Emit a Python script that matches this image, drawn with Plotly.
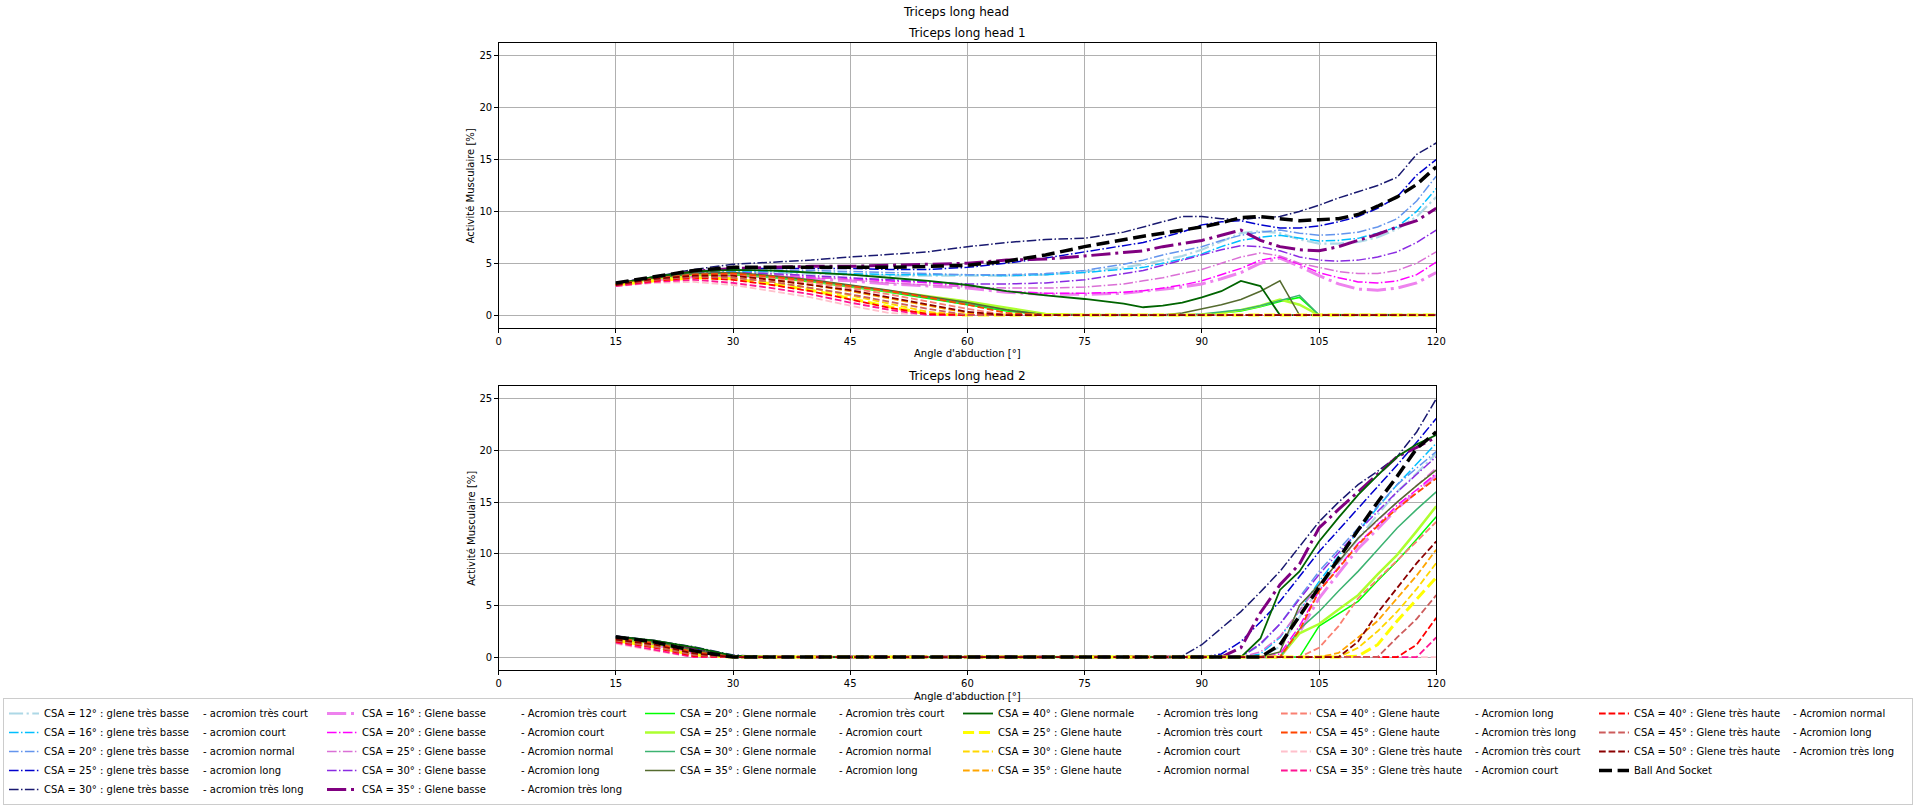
import plotly.graph_objects as go

# ---------------- data ----------------
ANGLES = [15, 20, 25, 30, 35, 40, 45, 50, 55, 60, 65, 70, 75, 80, 82.5, 85, 87.5, 90,
          92.5, 95, 97.5, 100, 102.5, 105, 107.5, 110, 112.5, 115, 117.5, 120]

CURVE_LABELS = [
    "CSA = 12° : glene très basse", "CSA = 16° : glene très basse", "CSA = 20° : glene très basse",
    "CSA = 25° : glene très basse", "CSA = 30° : glene très basse",
    "CSA = 16° : Glene basse", "CSA = 20° : Glene basse", "CSA = 25° : Glene basse",
    "CSA = 30° : Glene basse", "CSA = 35° : Glene basse",
    "CSA = 20° : Glene normale", "CSA = 25° : Glene normale", "CSA = 30° : Glene normale",
    "CSA = 35° : Glene normale", "CSA = 40° : Glene normale",
    "CSA = 25° : Glene haute", "CSA = 30° : Glene haute", "CSA = 35° : Glene haute",
    "CSA = 40° : Glene haute", "CSA = 45° : Glene haute",
    "CSA = 30° : Glene très haute", "CSA = 35° : Glene très haute", "CSA = 40° : Glene très haute",
    "CSA = 45° : Glene très haute", "CSA = 50° : Glene très haute",
    "Ball And Socket",
]
ACROMION_LABELS = [
    "- acromion très court", "- acromion court", "- acromion normal", "- acromion long", "- acromion très long",
    "- Acromion très court", "- Acromion court", "- Acromion normal", "- Acromion long", "- Acromion très long",
    "- Acromion très court", "- Acromion court", "- Acromion normal", "- Acromion long", "- Acromion très long",
    "- Acromion très court", "- Acromion court", "- Acromion normal", "- Acromion long", "- Acromion très long",
    "- Acromion très court", "- Acromion court", "- Acromion normal", "- Acromion long", "- Acromion très long",
    " ",
]

# Triceps long head 1
TOP = [
    [3.0, 3.5, 3.9, 4.1, 4.1, 4.0, 3.9, 3.8, 3.8, 3.8, 3.8, 3.9, 4.2, 4.6, 4.9, 5.3, 5.7, 6.3, 7.1, 7.9, 8.1, 7.9, 7.3, 6.9, 6.9, 7.05, 7.5, 8.3, 9.5, 11.4],
    [3.0, 3.5, 4.0, 4.2, 4.2, 4.1, 4.0, 3.9, 3.9, 3.9, 3.8, 3.9, 4.1, 4.4, 4.6, 5.0, 5.4, 5.9, 6.6, 7.2, 7.5, 7.7, 7.4, 7.15, 7.2, 7.4, 7.9, 8.5, 10.0, 12.2],
    [3.0, 3.6, 4.1, 4.3, 4.3, 4.3, 4.2, 4.1, 4.0, 3.9, 3.9, 4.0, 4.3, 4.9, 5.3, 5.8, 6.2, 6.6, 7.2, 7.7, 8.0, 8.2, 7.9, 7.7, 7.8, 8.0, 8.5, 9.3, 11.0, 13.4],
    [3.0, 3.6, 4.2, 4.5, 4.5, 4.5, 4.5, 4.4, 4.4, 4.6, 5.0, 5.5, 6.1, 6.7, 7.0, 7.5, 8.0, 8.7, 9.0, 9.1, 8.7, 8.4, 8.4, 8.6, 9.0, 9.5, 10.3, 11.4, 13.5, 15.0],
    [3.1, 3.7, 4.4, 4.9, 5.1, 5.3, 5.6, 5.85, 6.1, 6.6, 7.0, 7.3, 7.4, 8.0, 8.5, 9.0, 9.5, 9.5, 9.3, 9.2, 9.4, 9.5, 10.0, 10.6, 11.3, 11.9, 12.5, 13.3, 15.5, 16.6],
    [3.0, 3.4, 3.7, 3.8, 3.7, 3.5, 3.3, 3.0, 2.8, 2.6, 2.2, 2.0, 2.0, 2.1, 2.3, 2.5, 2.7, 3.0, 3.5, 4.1, 5.0, 5.5, 4.7, 3.8, 3.0, 2.5, 2.4, 2.6, 3.1, 4.1],
    [3.0, 3.5, 3.8, 3.9, 3.8, 3.6, 3.5, 3.3, 3.1, 2.8, 2.3, 2.1, 2.1, 2.2, 2.35, 2.6, 2.9, 3.3, 3.9, 4.5, 5.3, 5.6, 4.9, 4.1, 3.6, 3.2, 3.1, 3.3, 3.9, 5.1],
    [3.0, 3.5, 3.9, 4.0, 3.9, 3.7, 3.4, 3.1, 2.9, 2.7, 2.6, 2.6, 2.7, 3.0, 3.3, 3.6, 4.0, 4.4, 5.0, 5.6, 6.0, 5.7, 5.0, 4.6, 4.2, 4.0, 4.0, 4.3, 5.0, 6.1],
    [3.0, 3.5, 4.0, 4.1, 4.0, 3.8, 3.6, 3.4, 3.2, 3.0, 3.0, 3.1, 3.4, 4.0, 4.3, 4.8, 5.3, 5.8, 6.3, 6.7, 6.6, 6.2, 5.6, 5.3, 5.2, 5.3, 5.6, 6.1, 7.0, 8.2],
    [3.0, 3.6, 4.2, 4.5, 4.6, 4.7, 4.7, 4.8, 4.9, 5.0, 5.3, 5.4, 5.7, 6.0, 6.2, 6.6, 6.9, 7.2, 7.7, 8.2, 7.2, 6.6, 6.3, 6.2, 6.6, 7.2, 7.8, 8.5, 9.1, 10.3],
    [3.0, 3.5, 3.9, 3.9, 3.6, 3.2, 2.7, 2.2, 1.6, 1.0, 0.4, 0, 0, 0, 0, 0, 0, 0, 0.2, 0.4, 0.8, 1.3, 1.7, 0, 0, 0, 0, 0, 0, 0],
    [3.0, 3.5, 3.9, 4.0, 3.7, 3.3, 2.8, 2.3, 1.8, 1.3, 0.7, 0.1, 0, 0, 0, 0, 0, 0, 0.2, 0.5, 0.9, 1.5, 1.0, 0, 0, 0, 0, 0, 0, 0],
    [3.0, 3.6, 4.0, 4.0, 3.7, 3.3, 2.8, 2.3, 1.7, 1.1, 0.5, 0, 0, 0, 0, 0, 0, 0.1, 0.3, 0.5, 0.9, 1.4, 1.9, 0, 0, 0, 0, 0, 0, 0],
    [3.0, 3.6, 4.0, 4.1, 3.8, 3.4, 2.9, 2.4, 1.8, 1.2, 0.5, 0, 0, 0, 0, 0, 0.2, 0.6, 1.0, 1.5, 2.3, 3.3, 0, 0, 0, 0, 0, 0, 0, 0],
    [3.0, 3.7, 4.2, 4.35, 4.3, 4.1, 3.9, 3.6, 3.3, 2.9, 2.3, 1.9, 1.55, 1.1, 0.75, 0.9, 1.2, 1.7, 2.3, 3.3, 2.8, 0, 0, 0, 0, 0, 0, 0, 0, 0],
    [2.9, 3.3, 3.6, 3.5, 3.0, 2.4, 1.6, 0.8, 0.1, 0, 0, 0, 0, 0, 0, 0, 0, 0, 0, 0, 0, 0, 0, 0, 0, 0, 0, 0, 0, 0],
    [2.9, 3.4, 3.7, 3.6, 3.2, 2.6, 1.9, 1.1, 0.3, 0, 0, 0, 0, 0, 0, 0, 0, 0, 0, 0, 0, 0, 0, 0, 0, 0, 0, 0, 0, 0],
    [2.9, 3.5, 3.8, 3.8, 3.4, 2.9, 2.3, 1.6, 0.9, 0.2, 0, 0, 0, 0, 0, 0, 0, 0, 0, 0, 0, 0, 0, 0, 0, 0, 0, 0, 0, 0],
    [2.9, 3.5, 3.9, 3.9, 3.6, 3.1, 2.6, 2.0, 1.3, 0.6, 0, 0, 0, 0, 0, 0, 0, 0, 0, 0, 0, 0, 0, 0, 0, 0, 0, 0, 0, 0],
    [2.9, 3.5, 3.9, 4.0, 3.7, 3.3, 2.8, 2.3, 1.7, 1.0, 0.2, 0, 0, 0, 0, 0, 0, 0, 0, 0, 0, 0, 0, 0, 0, 0, 0, 0, 0, 0],
    [2.8, 3.1, 3.2, 2.9, 2.3, 1.7, 0.9, 0.2, 0, 0, 0, 0, 0, 0, 0, 0, 0, 0, 0, 0, 0, 0, 0, 0, 0, 0, 0, 0, 0, 0],
    [2.8, 3.2, 3.4, 3.1, 2.6, 2.0, 1.2, 0.5, 0, 0, 0, 0, 0, 0, 0, 0, 0, 0, 0, 0, 0, 0, 0, 0, 0, 0, 0, 0, 0, 0],
    [2.9, 3.3, 3.6, 3.4, 2.9, 2.3, 1.5, 0.7, 0.1, 0, 0, 0, 0, 0, 0, 0, 0, 0, 0, 0, 0, 0, 0, 0, 0, 0, 0, 0, 0, 0],
    [2.9, 3.4, 3.7, 3.6, 3.2, 2.6, 2.0, 1.3, 0.6, 0, 0, 0, 0, 0, 0, 0, 0, 0, 0, 0, 0, 0, 0, 0, 0, 0, 0, 0, 0, 0],
    [2.9, 3.5, 3.8, 3.8, 3.4, 2.9, 2.4, 1.7, 1.0, 0.3, 0, 0, 0, 0, 0, 0, 0, 0, 0, 0, 0, 0, 0, 0, 0, 0, 0, 0, 0, 0],
    [3.1, 3.7, 4.3, 4.6, 4.6, 4.6, 4.6, 4.6, 4.7, 4.8, 5.2, 5.8, 6.6, 7.3, 7.6, 7.9, 8.2, 8.5, 8.9, 9.4, 9.5, 9.3, 9.1, 9.2, 9.3, 9.7, 10.5, 11.4, 12.6, 14.3],
]

# Triceps long head 2
BOTTOM = [
    [1.85, 1.35, 0.5, 0, 0, 0, 0, 0, 0, 0, 0, 0, 0, 0, 0, 0, 0, 0, 0, 0, 0, 1.0, 3.9, 6.7, 9.1, 11.5, 13.8, 16.0, 17.8, 19.7],
    [1.9, 1.4, 0.6, 0, 0, 0, 0, 0, 0, 0, 0, 0, 0, 0, 0, 0, 0, 0, 0, 0, 0.3, 1.9, 4.5, 7.3, 9.8, 12.2, 14.5, 16.7, 18.7, 20.7],
    [1.9, 1.45, 0.7, 0, 0, 0, 0, 0, 0, 0, 0, 0, 0, 0, 0, 0, 0, 0, 0, 0, 1.2, 3.2, 5.8, 8.3, 10.4, 12.5, 14.6, 16.7, 18.3, 19.9],
    [2.0, 1.5, 0.8, 0.05, 0, 0, 0, 0, 0, 0, 0, 0, 0, 0, 0, 0, 0, 0, 0.3, 1.5, 3.4, 5.4, 7.8, 10.2, 12.3, 14.4, 16.4, 18.6, 20.8, 23.1],
    [2.05, 1.6, 1.0, 0.2, 0, 0, 0, 0, 0, 0, 0, 0, 0, 0, 0, 0, 0.1, 1.2, 2.8, 4.4, 6.3, 8.3, 10.7, 13.1, 15.0, 16.7, 18.0, 19.4, 21.8, 25.0],
    [1.75, 1.2, 0.35, 0, 0, 0, 0, 0, 0, 0, 0, 0, 0, 0, 0, 0, 0, 0, 0, 0, 0, 0, 2.4, 5.7, 8.1, 10.5, 12.4, 14.4, 16.0, 17.6],
    [1.8, 1.25, 0.4, 0, 0, 0, 0, 0, 0, 0, 0, 0, 0, 0, 0, 0, 0, 0, 0, 0, 0, 0.3, 3.0, 6.4, 8.7, 11.0, 12.8, 14.7, 16.2, 17.8],
    [1.85, 1.3, 0.5, 0, 0, 0, 0, 0, 0, 0, 0, 0, 0, 0, 0, 0, 0, 0, 0, 0, 0.5, 2.0, 4.5, 7.0, 9.2, 11.5, 13.2, 15.0, 16.6, 18.3],
    [1.9, 1.4, 0.6, 0, 0, 0, 0, 0, 0, 0, 0, 0, 0, 0, 0, 0, 0, 0, 0, 0, 1.3, 3.2, 5.6, 8.0, 10.1, 12.2, 14.1, 16.0, 17.7, 19.4],
    [1.95, 1.5, 0.8, 0, 0, 0, 0, 0, 0, 0, 0, 0, 0, 0, 0, 0, 0, 0, 0, 0.9, 4.3, 7.0, 9.0, 12.5, 14.3, 16.0, 17.7, 19.4, 20.3, 21.3],
    [1.8, 1.3, 0.5, 0, 0, 0, 0, 0, 0, 0, 0, 0, 0, 0, 0, 0, 0, 0, 0, 0, 0, 0, 0, 3.0, 4.2, 5.4, 7.4, 9.3, 11.4, 13.6],
    [1.85, 1.35, 0.55, 0, 0, 0, 0, 0, 0, 0, 0, 0, 0, 0, 0, 0, 0, 0, 0, 0, 0, 0, 2.3, 3.2, 4.6, 6.0, 8.0, 9.9, 12.2, 14.6],
    [1.9, 1.4, 0.6, 0, 0, 0, 0, 0, 0, 0, 0, 0, 0, 0, 0, 0, 0, 0, 0, 0, 0, 0, 2.7, 4.4, 6.4, 8.3, 10.4, 12.5, 14.3, 16.0],
    [1.95, 1.5, 0.7, 0, 0, 0, 0, 0, 0, 0, 0, 0, 0, 0, 0, 0, 0, 0, 0, 0, 0, 0.5, 5.0, 7.0, 9.3, 11.5, 13.3, 15.0, 16.6, 18.1],
    [2.0, 1.6, 0.95, 0.15, 0, 0, 0, 0, 0, 0, 0, 0, 0, 0, 0, 0, 0, 0, 0, 0, 1.8, 6.5, 8.3, 11.2, 13.5, 15.7, 17.6, 19.4, 20.6, 21.5],
    [1.6, 1.0, 0.2, 0, 0, 0, 0, 0, 0, 0, 0, 0, 0, 0, 0, 0, 0, 0, 0, 0, 0, 0, 0, 0, 0, 0.1, 1.2, 3.5, 5.6, 7.7],
    [1.65, 1.1, 0.3, 0, 0, 0, 0, 0, 0, 0, 0, 0, 0, 0, 0, 0, 0, 0, 0, 0, 0, 0, 0, 0, 0, 0.9, 2.5, 4.4, 6.6, 9.1],
    [1.7, 1.2, 0.4, 0, 0, 0, 0, 0, 0, 0, 0, 0, 0, 0, 0, 0, 0, 0, 0, 0, 0, 0, 0, 0, 0.4, 1.9, 3.5, 5.7, 7.9, 10.4],
    [1.75, 1.25, 0.45, 0, 0, 0, 0, 0, 0, 0, 0, 0, 0, 0, 0, 0, 0, 0, 0, 0, 0, 0, 0, 0.9, 3.0, 5.7, 7.5, 9.3, 11.2, 13.1],
    [1.8, 1.35, 0.5, 0, 0, 0, 0, 0, 0, 0, 0, 0, 0, 0, 0, 0, 0, 0, 0, 0, 0, 0, 2.6, 6.4, 8.6, 10.9, 12.7, 14.4, 15.9, 17.3],
    [1.3, 0.6, 0, 0, 0, 0, 0, 0, 0, 0, 0, 0, 0, 0, 0, 0, 0, 0, 0, 0, 0, 0, 0, 0, 0, 0, 0, 0, 0, 0],
    [1.4, 0.7, 0, 0, 0, 0, 0, 0, 0, 0, 0, 0, 0, 0, 0, 0, 0, 0, 0, 0, 0, 0, 0, 0, 0, 0, 0, 0, 0, 1.9],
    [1.5, 0.9, 0.1, 0, 0, 0, 0, 0, 0, 0, 0, 0, 0, 0, 0, 0, 0, 0, 0, 0, 0, 0, 0, 0, 0, 0, 0, 0, 1.2, 3.8],
    [1.6, 1.0, 0.2, 0, 0, 0, 0, 0, 0, 0, 0, 0, 0, 0, 0, 0, 0, 0, 0, 0, 0, 0, 0, 0, 0, 0, 0, 1.9, 3.7, 6.0],
    [1.7, 1.2, 0.35, 0, 0, 0, 0, 0, 0, 0, 0, 0, 0, 0, 0, 0, 0, 0, 0, 0, 0, 0, 0, 0, 0, 1.5, 4.3, 6.7, 9.1, 11.2],
    [1.95, 1.45, 0.6, 0, 0, 0, 0, 0, 0, 0, 0, 0, 0, 0, 0, 0, 0, 0, 0, 0, 0, 1.2, 4.0, 6.8, 9.5, 12.3, 15.0, 17.5, 20.2, 21.8],
]

# ---------------- styles ----------------
COLORS = ["lightblue", "deepskyblue", "cornflowerblue", "mediumblue", "midnightblue",
          "violet", "magenta", "orchid", "blueviolet", "purple",
          "lime", "greenyellow", "mediumseagreen", "darkolivegreen", "darkgreen",
          "yellow", "gold", "orange", "salmon", "orangered",
          "pink", "deeppink", "red", "indianred", "darkred",
          "black"]
STYLES = ["-."] * 10 + ["-"] * 5 + ["--"] * 11
WIDTHS = [2.2, 1.5, 1.5, 1.5, 1.5,
          3.0, 1.5, 1.5, 1.5, 3.0,
          1.5, 2.5, 1.5, 1.5, 1.8,
          3.0, 1.8, 1.8, 1.8, 1.8,
          1.8, 1.8, 1.8, 1.8, 1.8,
          3.5]


def dash_for(style, w):
    if style == "-.":
        pat = [6.4, 1.6, 1.0, 1.6]
    elif style == "--":
        pat = [3.7, 1.6]
    else:
        return "solid"
    return ",".join(f"{p * w:.1f}px" for p in pat)


# legend layout (matplotlib-like column-major, 12 columns)
LEGEND_CHUNKS = [5, 5, 4, 4, 4, 4]
NCOL = 12
flat = []
start = 0
for n in LEGEND_CHUNKS:
    flat += [("line", i) for i in range(start, start + n)]
    flat += [("text", i) for i in range(start, start + n)]
    start += n
nrows, nlarge = divmod(len(flat), NCOL)
rows_per_col = [nrows + 1] * nlarge + [nrows] * (NCOL - nlarge)
rank = {}
k = 0
for c, nr in enumerate(rows_per_col):
    for r in range(nr):
        rank[flat[k]] = r * NCOL + c + 1
        k += 1

FONT = "DejaVu Sans"
fig = go.Figure()

for i in range(len(CURVE_LABELS)):
    line = dict(color=COLORS[i], width=WIDTHS[i], dash=dash_for(STYLES[i], WIDTHS[i]))
    fig.add_trace(go.Scatter(x=ANGLES, y=TOP[i], mode="lines", line=line,
                             name=CURVE_LABELS[i], legendrank=rank[("line", i)],
                             xaxis="x", yaxis="y"))
    fig.add_trace(go.Scatter(x=ANGLES, y=BOTTOM[i], mode="lines", line=line,
                             name=CURVE_LABELS[i], showlegend=False,
                             xaxis="x2", yaxis="y2"))
for i in range(len(CURVE_LABELS)):
    fig.add_trace(go.Scatter(x=[None], y=[None], mode="lines",
                             line=dict(color="rgba(0,0,0,0)", width=0),
                             name=ACROMION_LABELS[i], legendrank=rank[("text", i)],
                             hoverinfo="skip", xaxis="x", yaxis="y"))

W, H = 1918, 805
XDOM = [499 / W, 1443 / W]
YDOM1 = [1 - 328 / H, 1 - 43 / H]
YDOM2 = [1 - 670 / H, 1 - 386 / H]

axis_common = dict(showgrid=True, gridcolor="#b0b0b0", gridwidth=0.8, zeroline=False,
                   showline=True, mirror=True, linecolor="black", linewidth=1,
                   ticks="outside", ticklen=3.5, tickwidth=0.8, tickcolor="black",
                   tickfont=dict(family=FONT, size=10, color="black"))
XTICKS = [0, 15, 30, 45, 60, 75, 90, 105, 120]
YTICKS = [0, 5, 10, 15, 20, 25]

fig.update_layout(
    width=W, height=H,
    margin=dict(l=0, r=0, t=0, b=0),
    paper_bgcolor="white", plot_bgcolor="white",
    font=dict(family=FONT, size=10, color="black"),
    xaxis=dict(domain=XDOM, anchor="y", range=[0, 120], tickvals=XTICKS, **axis_common),
    yaxis=dict(domain=YDOM1, anchor="x", range=[-1.25, 26.25], tickvals=YTICKS, **axis_common),
    xaxis2=dict(domain=XDOM, anchor="y2", range=[0, 120], tickvals=XTICKS, **axis_common),
    yaxis2=dict(domain=YDOM2, anchor="x2", range=[-1.25, 26.25], tickvals=YTICKS, **axis_common),
    showlegend=True,
    legend=dict(orientation="h", x=0.0, xanchor="left", y=0.0, yanchor="bottom",
                entrywidthmode="pixels", entrywidth=114, traceorder="normal",
                font=dict(family=FONT, size=10, color="black"),
                bordercolor="#cccccc", borderwidth=1, bgcolor="rgba(255,255,255,0)",
                itemwidth=30),
)

xc = (XDOM[0] + XDOM[1]) / 2
ann = [
    dict(text="Triceps long head", x=0.5, y=1 - 12 / H, size=12, angle=0),
    dict(text="Triceps long head 1", x=xc, y=1 - 33 / H, size=12, angle=0),
    dict(text="Triceps long head 2", x=xc, y=1 - 375.5 / H, size=12, angle=0),
    dict(text="Angle d'abduction [°]", x=xc, y=1 - 353 / H, size=10, angle=0),
    dict(text="Angle d'abduction [°]", x=xc, y=1 - 696 / H, size=10, angle=0),
    dict(text="Activité Musculaire [%]", x=471 / W, y=(YDOM1[0] + YDOM1[1]) / 2, size=10, angle=-90),
    dict(text="Activité Musculaire [%]", x=471 / W, y=(YDOM2[0] + YDOM2[1]) / 2, size=10, angle=-90),
]
for a in ann:
    fig.add_annotation(text=a["text"], x=a["x"], y=a["y"], xref="paper", yref="paper",
                       xanchor="center", yanchor="middle", showarrow=False,
                       textangle=a["angle"], font=dict(family=FONT, size=a["size"], color="black"))

fig.write_html("out.html", config={"displayModeBar": False},
               post_script="document.body.style.margin='0';document.body.style.overflow='hidden';")
